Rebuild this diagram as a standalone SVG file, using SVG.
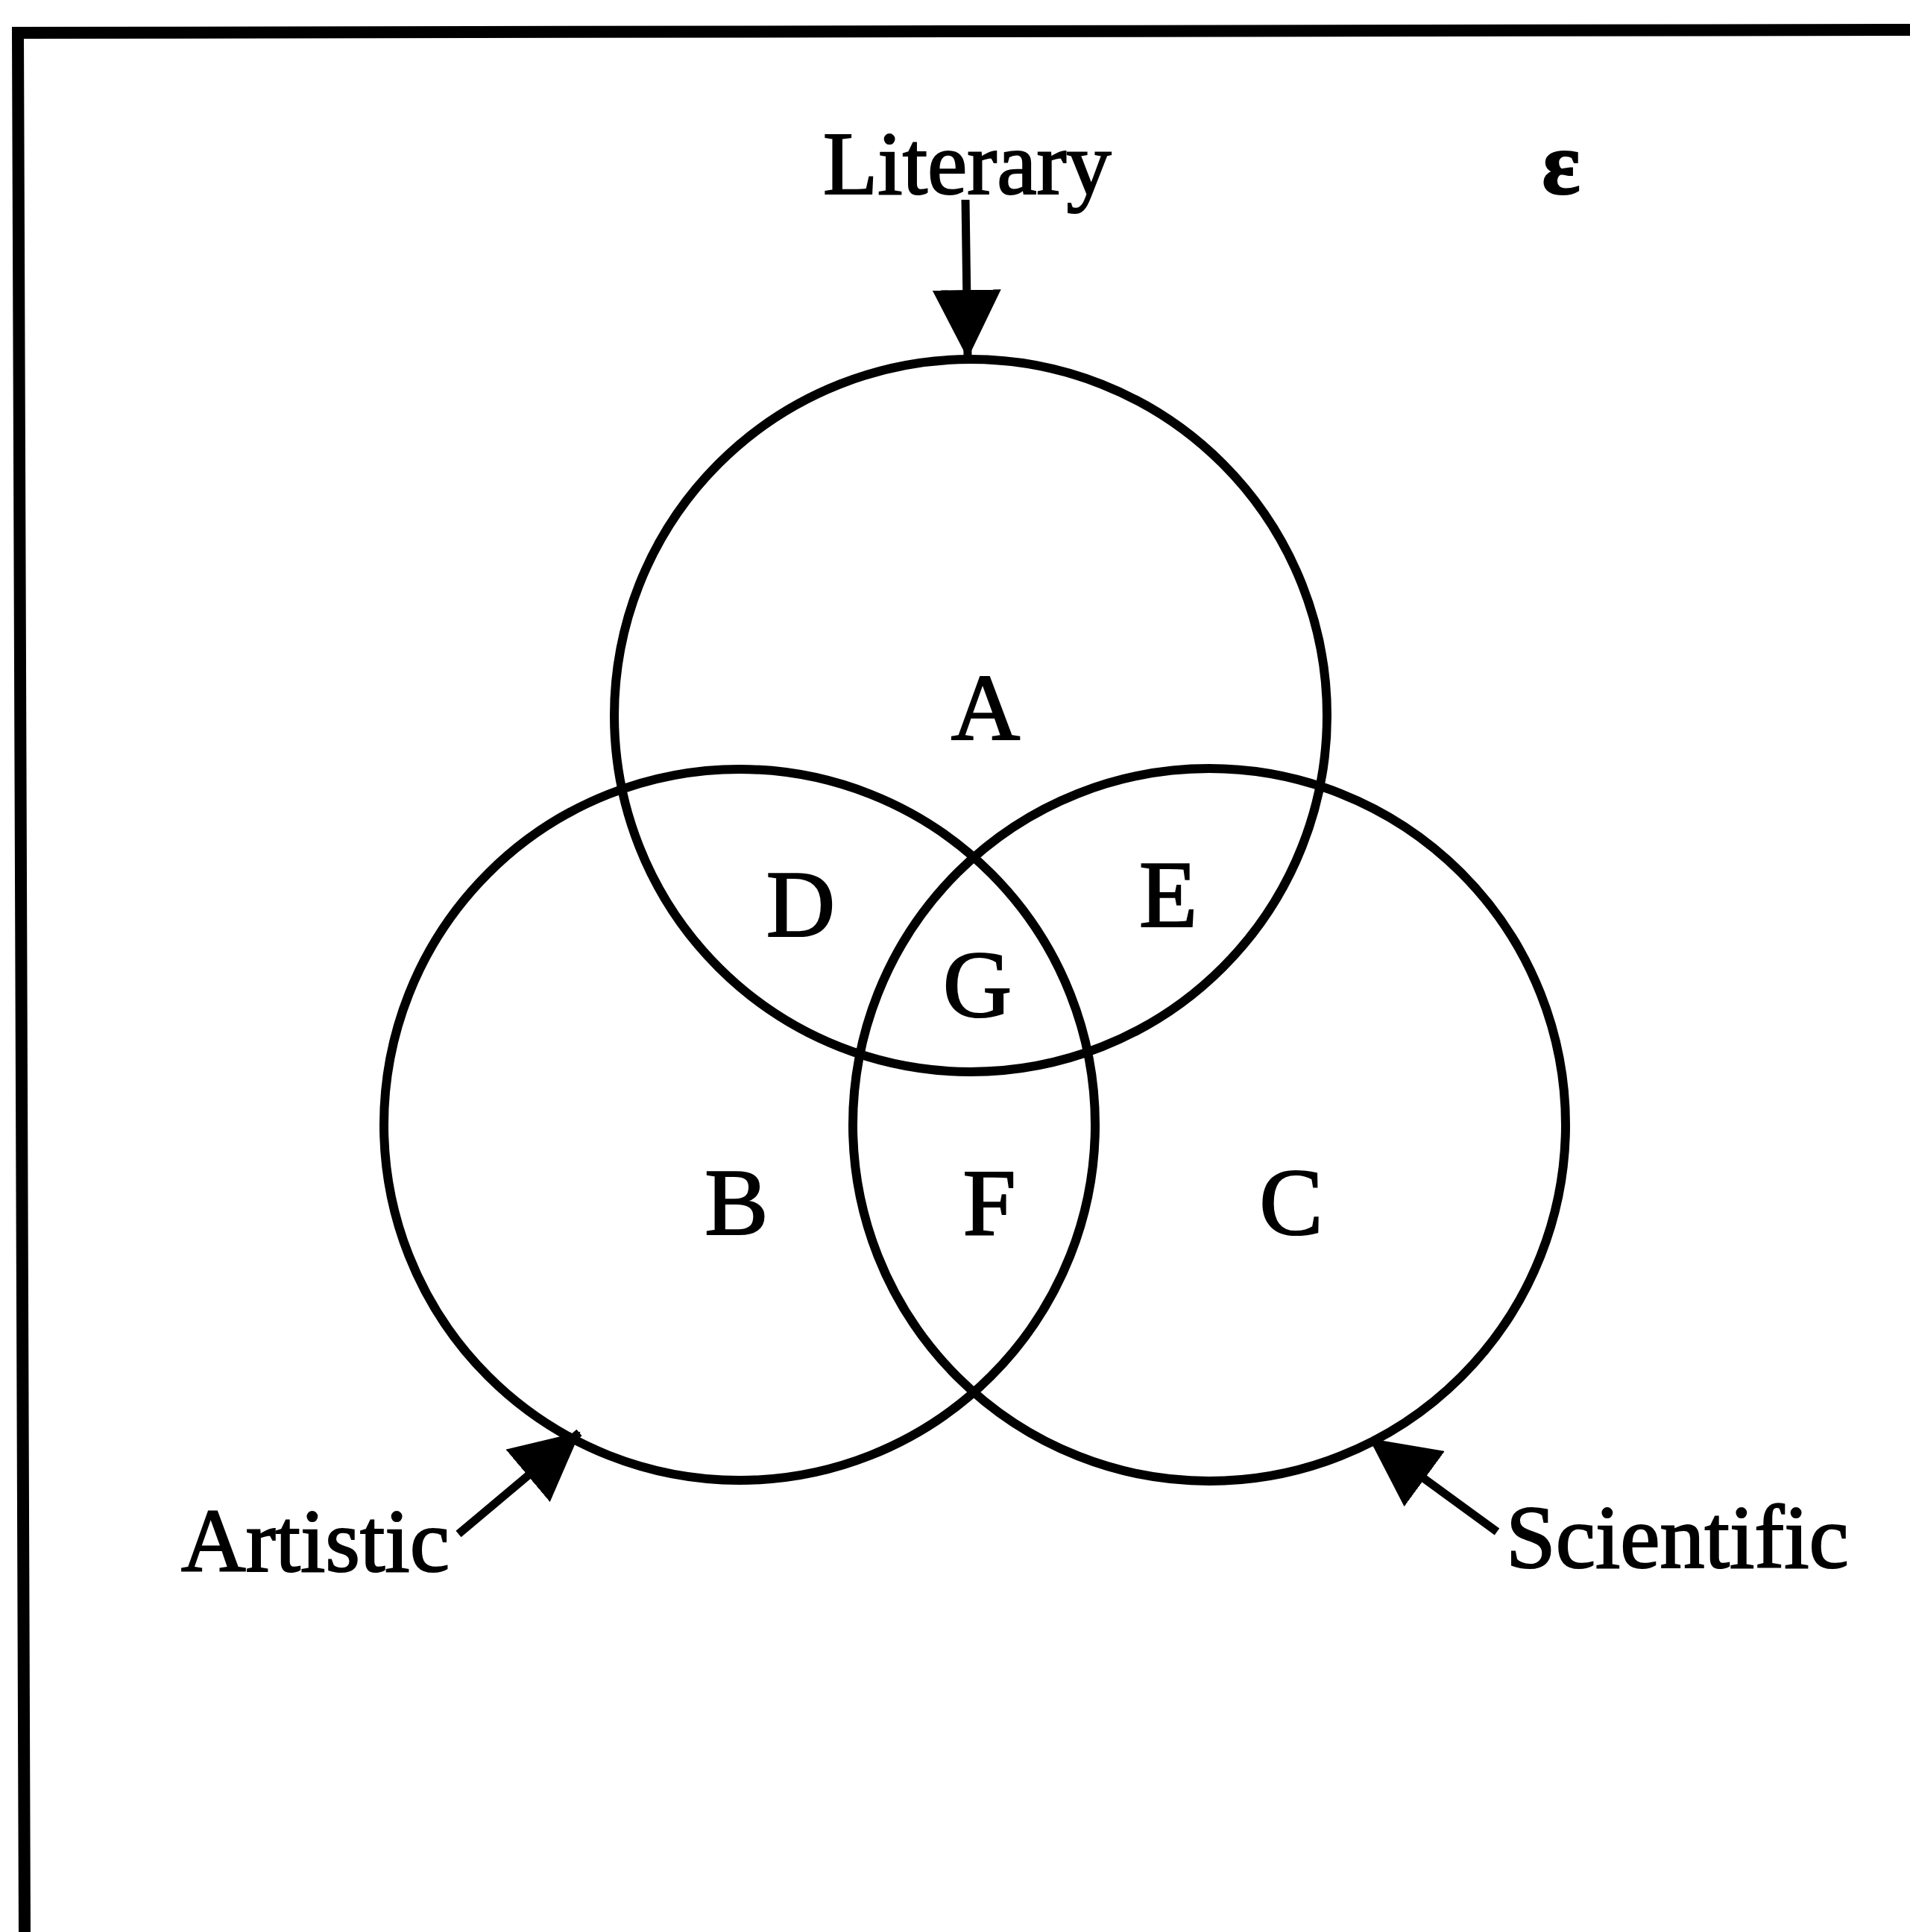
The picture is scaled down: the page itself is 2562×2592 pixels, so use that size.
<svg xmlns="http://www.w3.org/2000/svg" width="2562" height="2592" viewBox="0 0 2562 2592">
<style>
.ring{fill:none;stroke:#000;stroke-width:12}
.lbl{font-family:"Liberation Serif","Times New Roman",serif;font-size:120px;fill:#000;stroke:#000;stroke-width:2.2}
.big{font-size:128px}
.conn{stroke:#000;stroke-width:11;fill:none}
</style>
<defs>
<marker id="ah" markerUnits="userSpaceOnUse" markerWidth="92" markerHeight="92" viewBox="0 0 92 92" refX="90" refY="46" orient="auto">
<path d="M0,0 L92,46 L0,92 Z" fill="#000"/>
</marker>
</defs>
<rect width="2562" height="2592" fill="#fff"/>
<path id="frame" d="M33,2592 L24,44 L2562,40" fill="none" stroke="#000" stroke-width="16"/>
<g id="literary-set"><circle class="ring" cx="1302" cy="960" r="478"/></g>
<g id="artistic-set"><circle class="ring" cx="992" cy="1509" r="477"/></g>
<g id="scientific-set"><circle class="ring" cx="1622" cy="1509" r="478"/></g>
<g id="connectors">
<line class="conn" x1="1295" y1="268" x2="1298" y2="479" marker-end="url(#ah)"/>
<line class="conn" x1="615" y1="2058" x2="777" y2="1922" marker-end="url(#ah)"/>
<line class="conn" x1="2008" y1="2055" x2="1838" y2="1931" marker-end="url(#ah)"/>
</g>
<g id="labels">
<text class="lbl" x="1104" y="260">Literary</text>
<text class="lbl" x="2094" y="260" text-anchor="middle" font-weight="bold" font-size="130">ε</text>
<text class="lbl" x="243" y="2108">Artistic</text>
<text class="lbl" x="2020" y="2103">Scientific</text>
<text class="lbl big" x="1322" y="992" text-anchor="middle">A</text>
<text class="lbl big" x="1074" y="1256" text-anchor="middle">D</text>
<text class="lbl big" x="1567" y="1243" text-anchor="middle">E</text>
<text class="lbl big" x="1311" y="1364" text-anchor="middle">G</text>
<text class="lbl big" x="988" y="1656" text-anchor="middle">B</text>
<text class="lbl big" x="1327" y="1656" text-anchor="middle">F</text>
<text class="lbl big" x="1732" y="1656" text-anchor="middle">C</text>
</g>
</svg>
